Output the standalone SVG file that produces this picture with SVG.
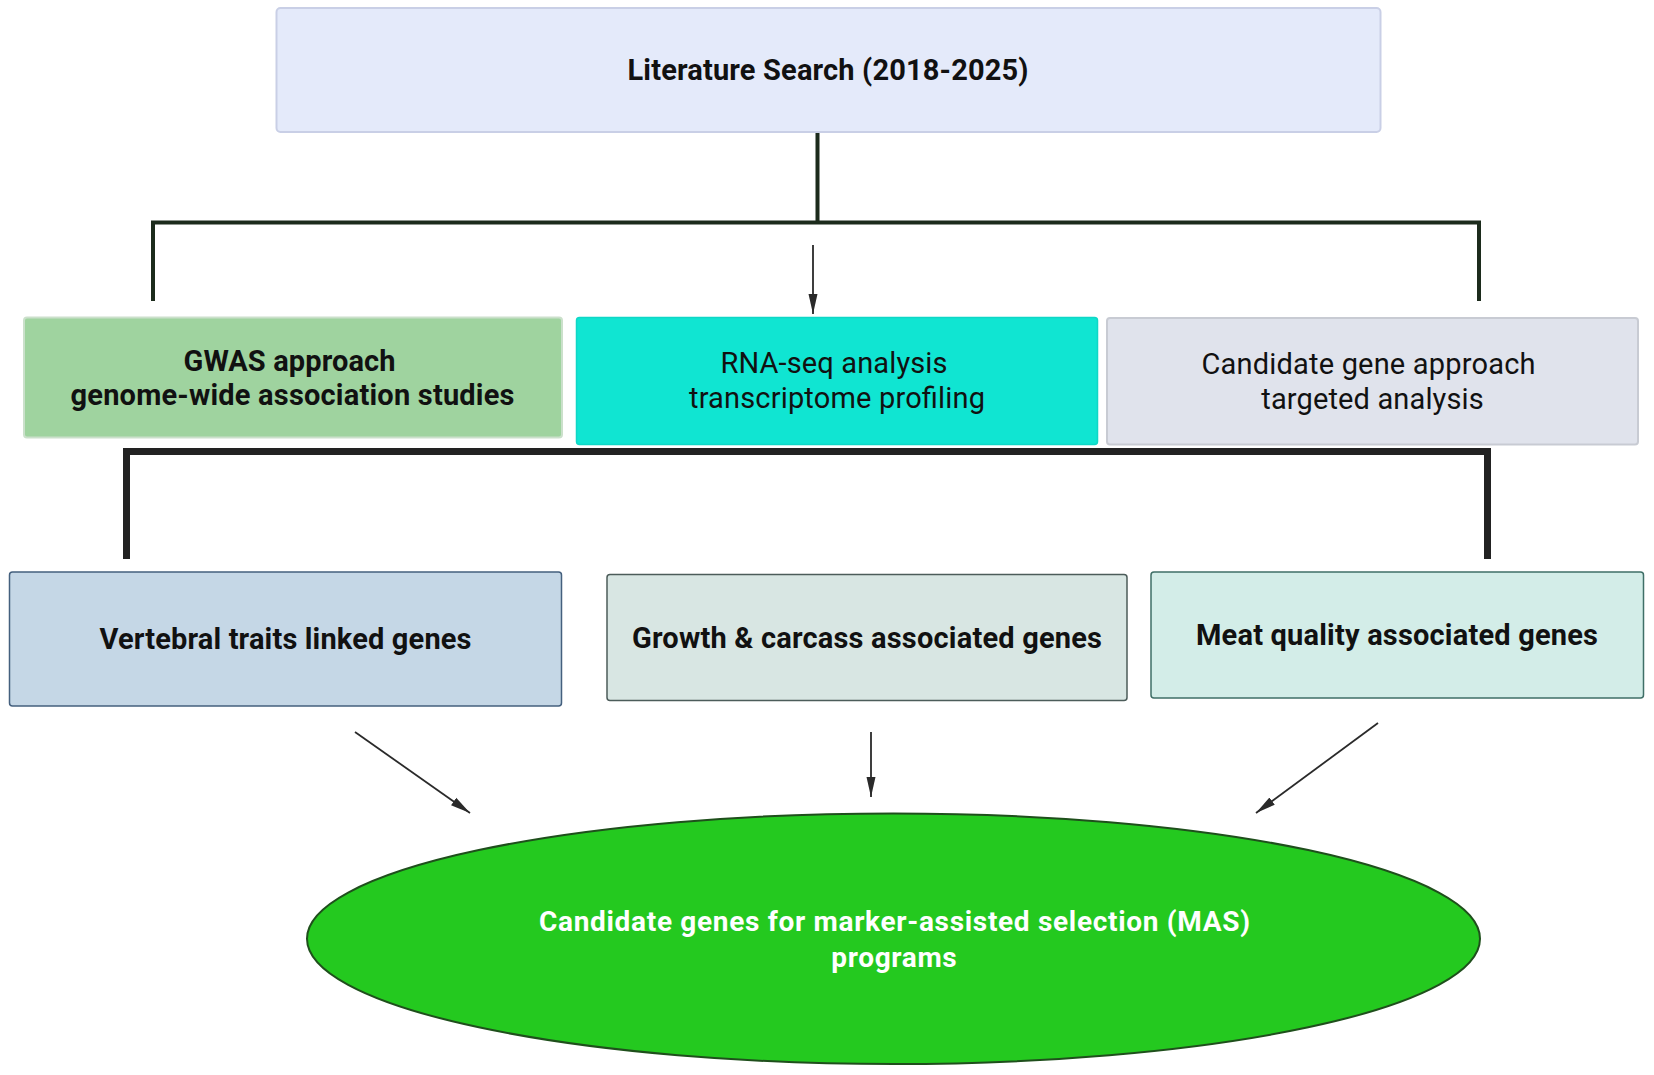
<svg xmlns="http://www.w3.org/2000/svg" width="1654" height="1075" viewBox="0 0 1654 1075">
<defs>
<style>
text{font-family:Roboto,"Liberation Sans",sans-serif;text-anchor:middle;fill:#111;font-size:29px}
.b{font-weight:bold}
.n{font-weight:normal}
.w{fill:#fff;font-size:28px}
.br1{fill:none;stroke:#1c2b1c;stroke-width:4}
.br2{fill:none;stroke:#222;stroke-width:7}
.arr{fill:none;stroke:#2a2a2a;stroke-width:1.8}
</style>
<marker id="ah2" viewBox="0 0 20 10" refX="20" refY="5" markerWidth="20" markerHeight="11" markerUnits="userSpaceOnUse" orient="auto">
<path d="M0,0.5 L20,5 L0,9.5 z" fill="#2a2a2a"/>
</marker>
</defs>
<rect width="1654" height="1075" fill="#fff"/>
<g id="connectors">
<path class="br1" d="M817.5,132 V222.5 M153,301 V222.5 H1479 V301"/>
<line class="arr" x1="813" y1="245" x2="813" y2="314" marker-end="url(#ah2)"/>
<path class="br2" d="M126.5,559 V451.5 H1487.5 V559"/>
<line class="arr" x1="355" y1="732" x2="470" y2="813" marker-end="url(#ah2)"/>
<line class="arr" x1="871" y1="732" x2="871" y2="797" marker-end="url(#ah2)"/>
<line class="arr" x1="1378" y1="723" x2="1256" y2="813" marker-end="url(#ah2)"/>
</g>
<g id="lit">
<rect x="276.5" y="8" width="1104" height="124" rx="4" fill="#e4eafa" stroke="#c9cfe6" stroke-width="2"/>
<text class="b" x="828" y="80" textLength="401">Literature Search (2018-2025)</text>
</g>
<g id="gwas">
<rect x="24" y="317.5" width="538" height="120" rx="3" fill="#9fd39f" stroke="#cbe0cb" stroke-width="2"/>
<text class="b" x="289.5" y="371" textLength="212">GWAS approach</text>
<text class="b" x="292.5" y="405" textLength="444">genome-wide association studies</text>
</g>
<g id="rnaseq">
<rect x="576.5" y="317.5" width="521" height="127" rx="3" fill="#10e5d2" stroke="#0fd7c6" stroke-width="1.5"/>
<text class="n" x="834" y="373" textLength="227">RNA-seq analysis</text>
<text class="n" x="837" y="408" textLength="296">transcriptome profiling</text>
</g>
<g id="candidate">
<rect x="1107" y="318" width="531" height="126.5" rx="3" fill="#e0e3ec" stroke="#c8cbd3" stroke-width="2"/>
<text class="n" x="1368.5" y="374" textLength="334">Candidate gene approach</text>
<text class="n" x="1372.5" y="409" textLength="222.5">targeted analysis</text>
</g>
<g id="vertebral">
<rect x="9.5" y="572" width="552" height="134" rx="3" fill="#c5d7e6" stroke="#44607e" stroke-width="1.5"/>
<text class="b" x="285.5" y="649" textLength="372">Vertebral traits linked genes</text>
</g>
<g id="growth">
<rect x="607" y="574.5" width="520" height="126" rx="3" fill="#d8e6e3" stroke="#4c5c5a" stroke-width="1.5"/>
<text class="b" x="867" y="648" textLength="470">Growth &amp; carcass associated genes</text>
</g>
<g id="meat">
<rect x="1151" y="572" width="492.5" height="126" rx="3" fill="#d3ede8" stroke="#3f6f67" stroke-width="1.5"/>
<text class="b" x="1397" y="645" textLength="402">Meat quality associated genes</text>
</g>
<g id="mas">
<ellipse cx="893.5" cy="938.7" rx="586.5" ry="125.3" fill="#24c91f" stroke="#1f4f1c" stroke-width="2"/>
<text class="b w" x="894.5" y="931" textLength="711">Candidate genes for marker-assisted selection (MAS)</text>
<text class="b w" x="894" y="967" textLength="125.5">programs</text>
</g>
</svg>
